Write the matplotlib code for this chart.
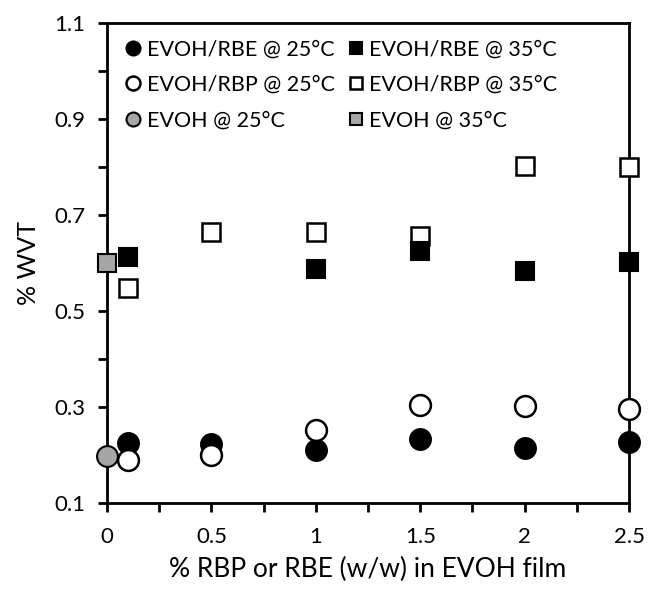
import matplotlib
matplotlib.use("Agg")
import matplotlib.pyplot as plt
from matplotlib.ticker import MultipleLocator

plt.rcParams['font.family'] = ['Lato', 'DejaVu Sans']

x_blend = [0.1, 0.5, 1.0, 1.5, 2.0, 2.5]
rbe_25 = [0.224, 0.222, 0.210, 0.233, 0.214, 0.227]
rbp_25 = [0.190, 0.200, 0.253, 0.305, 0.303, 0.295]
x_rbe35 = [0.1, 1.0, 1.5, 2.0, 2.5]
rbe_35 = [0.612, 0.588, 0.625, 0.583, 0.602]
rbp_35 = [0.548, 0.664, 0.664, 0.656, 0.803, 0.800]
x_evoh = [0.0]
evoh_25 = [0.197]
evoh_35 = [0.600]

x_ticks = [0, 0.5, 1, 1.5, 2, 2.5]
y_ticks = [0.1, 0.3, 0.5, 0.7, 0.9, 1.1]

fig = plt.figure(figsize=(6.49, 5.95), dpi=100)
ax = fig.add_axes([0.1649, 0.1546, 0.8043, 0.8067])

gray = '#A6A6A6'
ms_c = 15
ms_s = 13
common = dict(ls='none', clip_on=False)
h1, = ax.plot(x_blend, rbe_25, 'o', ms=ms_c, mfc='black', mec='black', mew=1.5, label='EVOH/RBE @ 25°C', zorder=3, **common)
h2, = ax.plot(x_blend, rbp_25, 'o', ms=ms_c, mfc='white', mec='black', mew=1.8, label='EVOH/RBP @ 25°C', zorder=3, **common)
h5, = ax.plot(x_blend, rbp_35, 's', ms=ms_s, mfc='white', mec='black', mew=1.8, label='EVOH/RBP @ 35°C', zorder=3, **common)
h4, = ax.plot(x_rbe35, rbe_35, 's', ms=ms_s, mfc='black', mec='black', mew=1.5, label='EVOH/RBE @ 35°C', zorder=3, **common)
h3, = ax.plot(x_evoh, evoh_25, 'o', ms=ms_c, mfc=gray, mec='black', mew=1.5, label='EVOH @ 25°C', zorder=4, **common)
h6, = ax.plot(x_evoh, evoh_35, 's', ms=ms_s, mfc=gray, mec='black', mew=1.5, label='EVOH @ 35°C', zorder=4, **common)

ax.set_xlim(0, 2.5)
ax.set_ylim(0.1, 1.1)
ax.set_xticks(x_ticks)
ax.set_xticklabels([f"{t:g}" for t in x_ticks])
ax.set_yticks(y_ticks)
ax.set_yticklabels([f"{t:.1f}" for t in y_ticks])
ax.xaxis.set_minor_locator(MultipleLocator(0.25))
ax.yaxis.set_minor_locator(MultipleLocator(0.1))
ax.tick_params(which='both', direction='out', width=2, length=6.5, labelsize=16, colors='black')
ax.tick_params(axis='x', pad=11)
ax.tick_params(axis='y', pad=9)
for s in ax.spines.values():
    s.set_linewidth(2)

ax.set_xlabel('% RBP or RBE (w/w) in EVOH film', fontsize=19, labelpad=7)
ax.set_ylabel('% WVT', fontsize=18, labelpad=10)

leg = ax.legend(handles=[h1, h2, h3, h4, h5, h6], ncol=2, loc='upper left',
                frameon=False, fontsize=15.5, markerscale=0.67, handletextpad=0.15,
                columnspacing=0.5, labelspacing=0.72, handlelength=0.95,
                borderaxespad=0.35)

fig.savefig('out.png', dpi=100)
